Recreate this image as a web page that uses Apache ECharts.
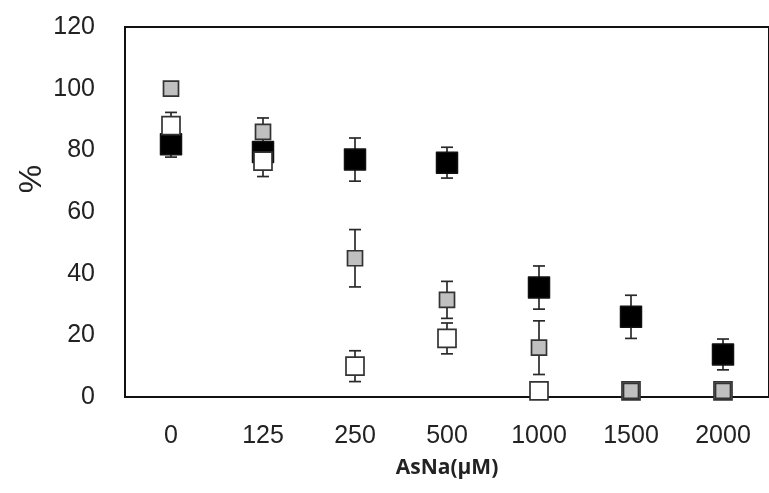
<!DOCTYPE html>
<html>
<head>
<meta charset="utf-8">
<script src="https://cdn.jsdelivr.net/npm/echarts@6/dist/echarts.min.js"></script>
<style>
html,body{margin:0;padding:0;background:#fff;}
#chart{width:769px;height:493px;}
</style>
</head>
<body>
<div id="chart"></div>
<script>
const categories = ['0', '125', '250', '500', '1000', '1500', '2000'];
const yTicks = [0, 20, 40, 60, 80, 100, 120];
const blackVals = [82, 79.5, 77, 76, 35.5, 26, 13.8];
const blackErr  = [4.2, 3, 7, 5, 7, 7, 5];
const grayVals  = [100, 86, 45, 31.5, 16, 2, 2];
const grayErr   = [0, 4.5, 9.3, 6, 8.7, 0, 0];
const whiteVals = [88, 76.5, 10, 19, 2, 2, 2];
const whiteErr  = [4.3, 5, 5, 5, 0, 0, 0];

function errData(vals, errs) {
  return vals.map((v, i) => [i, v - errs[i], v + errs[i], errs[i]]);
}

function renderErr(params, api) {
  const e = api.value(3);
  if (!e) return null;
  const lo = api.coord([api.value(0), api.value(1)]);
  const hi = api.coord([api.value(0), api.value(2)]);
  const cap = 6;
  const style = { stroke: '#2a2a2a', lineWidth: 1.7, fill: null };
  return {
    type: 'group',
    children: [
      { type: 'line', shape: { x1: lo[0], y1: lo[1], x2: hi[0], y2: hi[1] }, style },
      { type: 'line', shape: { x1: lo[0] - cap, y1: lo[1], x2: lo[0] + cap, y2: lo[1] }, style },
      { type: 'line', shape: { x1: hi[0] - cap, y1: hi[1], x2: hi[0] + cap, y2: hi[1] }, style }
    ]
  };
}

const chart = echarts.init(document.getElementById('chart'), null, { renderer: 'canvas' });
const labelFont = '"Liberation Sans", Arial, sans-serif';
chart.setOption({
  animation: false,
  backgroundColor: '#fff',
  grid: { left: 125, top: 27, width: 656, height: 370, show: true, borderColor: '#111', borderWidth: 2, backgroundColor: 'transparent' },
  xAxis: {
    type: 'category',
    data: categories,
    boundaryGap: true,
    axisLine: { lineStyle: { color: '#111', width: 2 } },
    axisTick: { show: false },
    splitLine: { show: false },
    axisLabel: { color: '#222', fontFamily: labelFont, fontSize: 25, margin: 27 },
    name: 'AsNa(µM)',
    nameLocation: 'middle',
    nameGap: 61,
    nameTextStyle: { color: '#222', fontFamily: '"Open Sans", sans-serif', fontWeight: 'bold', fontSize: 21 }
  },
  yAxis: {
    type: 'value',
    min: 0, max: 120, interval: 20,
    axisLine: { show: true, lineStyle: { color: '#111', width: 2 } },
    axisTick: { show: false },
    splitLine: { show: false },
    axisLabel: { color: '#222', fontFamily: labelFont, fontSize: 25, margin: 30,
      formatter: v => yTicks.includes(v) ? String(v) : '' }
  },
  graphic: [{
    type: 'text', x: 32, y: 179, rotation: Math.PI / 2,
    style: { text: '%', fontFamily: labelFont, fontSize: 32, fill: '#222', textAlign: 'center', textVerticalAlign: 'middle' }
  }],
  series: [
    { type: 'custom', renderItem: renderErr, data: errData(blackVals, blackErr), z: 1, encode: { x: 0, y: [1, 2] } },
    { type: 'custom', renderItem: renderErr, data: errData(grayVals, grayErr), z: 1, encode: { x: 0, y: [1, 2] } },
    { type: 'custom', renderItem: renderErr, data: errData(whiteVals, whiteErr), z: 1, encode: { x: 0, y: [1, 2] } },
    { type: 'scatter', name: 'black', data: blackVals, symbol: 'rect', symbolSize: 21, z: 2,
      itemStyle: { color: '#000', borderColor: '#111', borderWidth: 1.5, borderJoin: 'round', opacity: 1 } },
    { type: 'scatter', name: 'white', data: whiteVals, symbol: 'rect', symbolSize: 18, z: 3,
      itemStyle: { color: '#fff', borderColor: '#333', borderWidth: 1.7, opacity: 1 } },
    { type: 'scatter', name: 'gray', data: grayVals, symbol: 'rect', symbolSize: 15, z: 4,
      itemStyle: { color: '#c0c0c0', borderColor: '#333', borderWidth: 1.7, opacity: 1 } }
  ]
});
</script>
</body>
</html>
